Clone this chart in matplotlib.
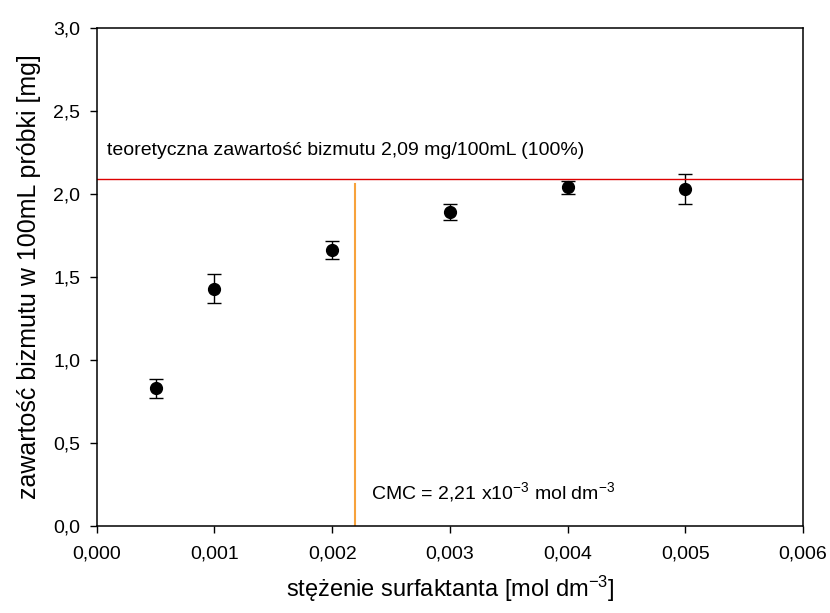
import matplotlib
matplotlib.use('Agg')
import matplotlib.pyplot as plt
from matplotlib.ticker import FuncFormatter

plt.rcParams['font.family'] = ['Liberation Sans', 'DejaVu Sans']
plt.rcParams['mathtext.fontset'] = 'custom'
plt.rcParams['mathtext.rm'] = 'Liberation Sans'
plt.rcParams['mathtext.it'] = 'Liberation Sans'
plt.rcParams['mathtext.default'] = 'regular'

# stężenie surfaktanta [mol dm-3]
conc = [0.0005, 0.001, 0.002, 0.003, 0.004, 0.005]
# zawartość bizmutu [mg]
bi_content = [0.83, 1.43, 1.66, 1.89, 2.04, 2.03]
bi_err = [0.057, 0.088, 0.054, 0.048, 0.037, 0.088]

theory_level = 2.09
cmc = 0.00219
cmc_line_top = 2.06

fig = plt.figure(figsize=(8.3, 6.13), dpi=100)
ax = fig.add_axes([0.1165, 0.1419, 0.851, 0.8124])

ax.errorbar(conc, bi_content, yerr=bi_err, fmt='o', color='black',
            markersize=8.5, capsize=5, elinewidth=1, capthick=1)

# poziom teoretyczny
ax.axhline(theory_level, color='#dd0000', lw=1)
ax.text(0.00009, 2.265, 'teoretyczna zawartość bizmutu 2,09 mg/100mL (100%)',
        fontsize=14, va='center', ha='left')

# CMC
ax.plot([cmc, cmc], [0, cmc_line_top], color='#f7a23c', lw=1.5)
ax.text(0.00233, 0.205, 'CMC = 2,21 x10$^{-3}$ mol dm$^{-3}$',
        fontsize=14, va='center', ha='left')

ax.set_xlim(0, 0.006)
ax.set_ylim(0, 3.0)
ax.set_xticks([0, 0.001, 0.002, 0.003, 0.004, 0.005, 0.006])
ax.set_yticks([0, 0.5, 1.0, 1.5, 2.0, 2.5, 3.0])
ax.xaxis.set_major_formatter(FuncFormatter(lambda v, p: f'{v:.3f}'.replace('.', ',')))
ax.yaxis.set_major_formatter(FuncFormatter(lambda v, p: f'{v:.1f}'.replace('.', ',')))
ax.tick_params(direction='out', length=5, width=1, labelsize=14,
               top=False, right=False)
ax.tick_params(axis='x', pad=9)
ax.tick_params(axis='y', pad=7)

ax.set_xlabel('stężenie surfaktanta [mol dm$^{-3}$]', fontsize=17, labelpad=8)
ax.set_ylabel('zawartość bizmutu w 100mL próbki [mg]', fontsize=18, labelpad=9)

for s in ax.spines.values():
    s.set_linewidth(1.1)

fig.savefig('out.png', dpi=100)
